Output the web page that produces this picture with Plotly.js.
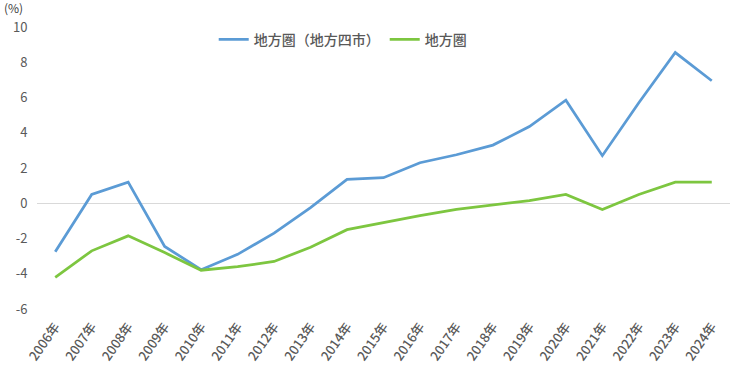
<!DOCTYPE html>
<html>
<head>
<meta charset="utf-8">
<script src="https://cdn.plot.ly/plotly-3.0.1.min.js"></script>
<style>html,body{margin:0;padding:0;background:#fff;}#chart{width:730px;height:373px;}</style>
</head>
<body>
<div id="chart"></div>
<script>
const years = ["2006年","2007年","2008年","2009年","2010年","2011年","2012年","2013年","2014年","2015年","2016年","2017年","2018年","2019年","2020年","2021年","2022年","2023年","2024年"];
const seriesNames = ["地方圏（地方四市）","地方圏"];
const chihouYonshi = [-2.75,0.5,1.2,-2.45,-3.77,-2.9,-1.7,-0.25,1.35,1.45,2.3,2.75,3.3,4.35,5.85,2.7,5.7,8.55,6.95];
const chihouken = [-4.2,-2.7,-1.85,-2.8,-3.8,-3.6,-3.3,-2.5,-1.5,-1.1,-0.7,-0.35,-0.1,0.15,0.5,-0.35,0.5,1.2,1.2];
const yTicks = [10,8,6,4,2,0,-2,-4,-6];

const font = "'Noto Sans CJK JP', 'Open Sans', sans-serif";
const traces = [
  {x: years, y: chihouYonshi, name: seriesNames[0], type: 'scatter', mode: 'lines',
   line: {color: '#5B9BD5', width: 2.75}},
  {x: years, y: chihouken, name: seriesNames[1], type: 'scatter', mode: 'lines',
   line: {color: '#7DC640', width: 2.75}}
];
const layout = {
  width: 730, height: 373,
  margin: {l: 37, r: 0, t: 27, b: 64},
  paper_bgcolor: '#fff', plot_bgcolor: '#fff',
  font: {family: font, color: '#595959', size: 12},
  showlegend: true,
  legend: {orientation: 'h', x: 0.255, xanchor: 'left', y: 0.955, yanchor: 'middle',
           font: {size: 14, color: '#595959', weight: 500}, traceorder: 'normal', itemwidth: 30},
  xaxis: {type: 'category', range: [-0.5, 18.5], tickangle: -55, showgrid: false, zeroline: false, showline: false,
          ticks: 'outside', ticklen: 4, tickcolor: 'rgba(0,0,0,0)',
          tickfont: {size: 13, color: '#595959', weight: 500}, fixedrange: true},
  yaxis: {range: [-6, 10], tickvals: yTicks, ticktext: yTicks.map(String), showgrid: false,
          zeroline: true, zerolinecolor: '#D9D9D9', zerolinewidth: 1, showline: false,
          ticks: 'outside', ticklen: 6, tickcolor: 'rgba(0,0,0,0)',
          tickfont: {size: 13, color: '#595959'}, fixedrange: true},
  annotations: [{text: '(%)', xref: 'paper', yref: 'paper', x: -0.045, y: 1.0, xanchor: 'left', yanchor: 'bottom',
                 yshift: 9, xshift: -4, showarrow: false, font: {size: 12, color: '#404040'}}]
};
Plotly.newPlot('chart', traces, layout, {displayModeBar: false, staticPlot: true});
</script>
</body>
</html>
